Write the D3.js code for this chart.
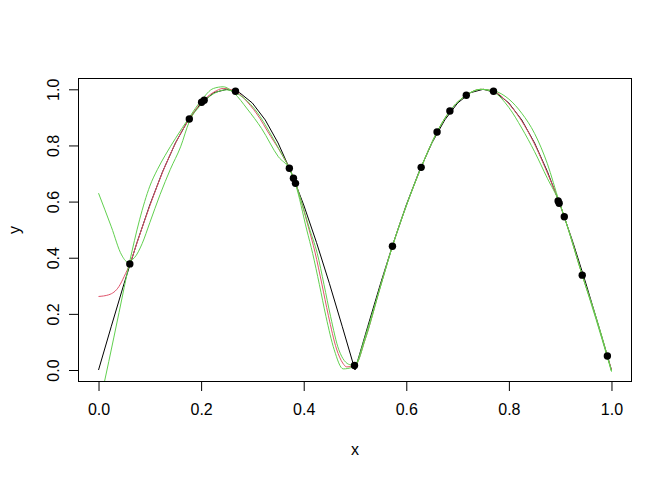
<!DOCTYPE html>
<html>
<head>
<meta charset="utf-8">
<script src="https://cdn.jsdelivr.net/npm/d3@7"></script>
<style>
body { margin: 0; background: #fff; }
text { font-family: "Liberation Sans", Arial, sans-serif; fill: #000; }
</style>
</head>
<body>
<div id="chart"></div>
<script>
// observed sample points
var ptX = [0.061, 0.177, 0.201, 0.206, 0.267, 0.372, 0.380, 0.384, 0.499, 0.573, 0.629, 0.660, 0.685, 0.717, 0.770, 0.896, 0.898, 0.908, 0.943, 0.992];
var ptY = [0.378, 0.894, 0.954, 0.961, 0.993, 0.719, 0.683, 0.665, 0.016, 0.441, 0.722, 0.848, 0.923, 0.979, 0.993, 0.602, 0.594, 0.546, 0.338, 0.050];

// black curve
var blackX = [0, 0.025, 0.05, 0.075, 0.1, 0.125, 0.15, 0.175, 0.2, 0.225, 0.25, 0.275, 0.3, 0.325, 0.35, 0.375, 0.4, 0.425, 0.45, 0.475, 0.5,
              0.525, 0.55, 0.575, 0.6, 0.625, 0.65, 0.675, 0.7, 0.725, 0.75, 0.775, 0.8, 0.825, 0.85, 0.875, 0.9, 0.925, 0.95, 0.975, 1.0];
var blackY = [0, 0.156, 0.309, 0.454, 0.588, 0.707, 0.809, 0.891, 0.951, 0.988, 1.0, 0.988, 0.951, 0.891, 0.809, 0.707, 0.588, 0.454, 0.309, 0.156, 0.0,
              0.156, 0.309, 0.454, 0.588, 0.707, 0.809, 0.891, 0.951, 0.988, 1.0, 0.988, 0.951, 0.891, 0.809, 0.707, 0.588, 0.454, 0.309, 0.156, 0.0];

// red fit
var redX = [0, 0.02, 0.04, 0.05, 0.061, 0.077, 0.1, 0.125, 0.15, 0.177, 0.2, 0.225, 0.243, 0.267, 0.29, 0.315, 0.328, 0.36, 0.372, 0.384,
            0.409, 0.422, 0.435, 0.448, 0.464, 0.476, 0.484, 0.5, 0.52, 0.55, 0.573, 0.6, 0.629, 0.66, 0.685, 0.717, 0.745, 0.77,
            0.8, 0.825, 0.85, 0.875, 0.898, 0.908, 0.943, 0.97, 0.992, 1.0];
var redY = [0.262, 0.268, 0.298, 0.333, 0.378, 0.464, 0.585, 0.705, 0.808, 0.894, 0.952, 0.99, 1.003, 0.993, 0.955, 0.895, 0.855, 0.76, 0.719, 0.665,
            0.51, 0.42, 0.31, 0.195, 0.075, 0.025, 0.011, 0.016, 0.11, 0.30, 0.441, 0.585, 0.722, 0.848, 0.923, 0.979, 1.0, 0.993,
            0.948, 0.887, 0.805, 0.702, 0.598, 0.546, 0.338, 0.185, 0.05, 0.0];

// green fits
var greenAX = [0, 0.025, 0.045, 0.056, 0.07, 0.085, 0.1, 0.12, 0.14, 0.16, 0.177, 0.2, 0.225, 0.25, 0.27, 0.29, 0.315, 0.331, 0.36, 0.372, 0.384,
               0.412, 0.4265, 0.4395, 0.4525, 0.4685, 0.49, 0.5, 0.52, 0.55, 0.573, 0.6, 0.629, 0.66, 0.685, 0.717, 0.745, 0.77,
               0.8, 0.825, 0.85, 0.875, 0.898, 0.908, 0.943, 0.97, 0.992, 1.0];
var greenAY = [0.63, 0.51, 0.41, 0.386, 0.40, 0.45, 0.525, 0.625, 0.715, 0.795, 0.885, 0.945, 0.985, 0.998, 0.985, 0.958, 0.903, 0.855, 0.76, 0.719, 0.665,
               0.499, 0.415, 0.305, 0.19, 0.072, 0.019, 0.017, 0.11, 0.30, 0.441, 0.585, 0.722, 0.848, 0.923, 0.979, 1.0, 0.995,
               0.965, 0.915, 0.843, 0.735, 0.6, 0.546, 0.338, 0.18, 0.045, -0.005];

var greenBX = [0, 0.02, 0.04, 0.06, 0.08, 0.1, 0.115, 0.13, 0.15, 0.177, 0.2, 0.224, 0.243, 0.265, 0.29, 0.318, 0.3505, 0.372, 0.384,
               0.406, 0.4175, 0.4305, 0.4435, 0.4595, 0.477, 0.495, 0.5, 0.52, 0.55, 0.573, 0.6, 0.629, 0.66, 0.685, 0.717, 0.745, 0.77,
               0.8, 0.825, 0.85, 0.875, 0.898, 0.908, 0.943, 0.97, 0.992, 1.0];
var greenBY = [-0.14, 0.03, 0.205, 0.38, 0.535, 0.655, 0.715, 0.765, 0.825, 0.9, 0.96, 1.003, 1.009, 0.985, 0.93, 0.86, 0.76, 0.716, 0.662,
               0.499, 0.415, 0.305, 0.19, 0.072, 0.004, 0.01, 0.016, 0.12, 0.30, 0.441, 0.585, 0.722, 0.848, 0.923, 0.979, 1.0, 0.99,
               0.935, 0.862, 0.778, 0.683, 0.598, 0.546, 0.338, 0.188, 0.05, -0.005];

var xTicks = [0, 0.2, 0.4, 0.6, 0.8, 1.0];
var yTicks = [0, 0.2, 0.4, 0.6, 0.8, 1.0];

var W = 672, H = 480;
var box = {left: 78, right: 632, top: 78, bottom: 382};

var svg = d3.select("#chart").append("svg").attr("width", W).attr("height", H);

var x = d3.scaleLinear().domain([-0.04, 1.04]).range([box.left, box.right]);
var y = d3.scaleLinear().domain([-0.0427, 1.0403]).range([box.bottom, box.top]);

svg.append("clipPath").attr("id", "plotClip").append("rect")
    .attr("x", box.left).attr("y", box.top)
    .attr("width", box.right - box.left).attr("height", box.bottom - box.top);

/***************************
 * Axes
 ***************************/
var xAxis = svg.append("g").attr("transform", "translate(0," + box.bottom + ")")
    .call(d3.axisBottom(x).tickValues(xTicks).tickFormat(d3.format(".1f")).tickSize(9).tickSizeOuter(0).tickPadding(13));
xAxis.select(".domain").remove();
xAxis.selectAll("line").attr("stroke", "#000");
xAxis.selectAll("text").attr("font-size", 16).attr("font-family", "Liberation Sans, Arial, sans-serif");

var yAxis = svg.append("g").attr("transform", "translate(" + box.left + ",0)")
    .call(d3.axisLeft(y).tickValues(yTicks).tickFormat(d3.format(".1f")).tickSize(9).tickSizeOuter(0));
yAxis.select(".domain").remove();
yAxis.selectAll("line").attr("stroke", "#000");
// R draws y labels parallel to the axis
yAxis.selectAll("text")
    .attr("x", null).attr("dy", null)
    .attr("text-anchor", "middle")
    .attr("transform", "translate(-19,0) rotate(-90)")
    .attr("font-size", 16).attr("font-family", "Liberation Sans, Arial, sans-serif");

svg.append("text").attr("x", (box.left + box.right) / 2).attr("y", 455)
    .attr("text-anchor", "middle").attr("font-size", 16).text("x");
svg.append("text").attr("transform", "translate(20," + (box.top + box.bottom) / 2 + ") rotate(-90)")
    .attr("text-anchor", "middle").attr("font-size", 16).text("y");

/***************************
 * Lines and points
 ***************************/
var plot = svg.append("g").attr("clip-path", "url(#plotClip)");

var drawLine = function(xs, ys, color, curve) {
    var pts = xs.map(function(d, i) { return [d, ys[i]]; });
    var line = d3.line().x(function(d) { return x(d[0]); }).y(function(d) { return y(d[1]); }).curve(curve);
    plot.append("path").datum(pts).attr("d", line)
        .attr("fill", "none").attr("stroke", color).attr("stroke-width", 1);
};

drawLine(blackX, blackY, "#000000", d3.curveLinear);
drawLine(redX, redY, "#DF536B", d3.curveMonotoneX);
drawLine(greenAX, greenAY, "#61D04F", d3.curveMonotoneX);
drawLine(greenBX, greenBY, "#61D04F", d3.curveMonotoneX);

svg.append("g").selectAll("circle").data(ptX).enter().append("circle")
    .attr("cx", function(d) { return x(d); })
    .attr("cy", function(d, i) { return y(ptY[i]); })
    .attr("r", 3.7).attr("fill", "#000");

// plot box
svg.append("rect").attr("x", box.left + 0.5).attr("y", box.top + 0.5)
    .attr("width", box.right - box.left - 1).attr("height", box.bottom - box.top - 1)
    .attr("fill", "none").attr("stroke", "#000").attr("stroke-width", 1);
</script>
</body>
</html>
